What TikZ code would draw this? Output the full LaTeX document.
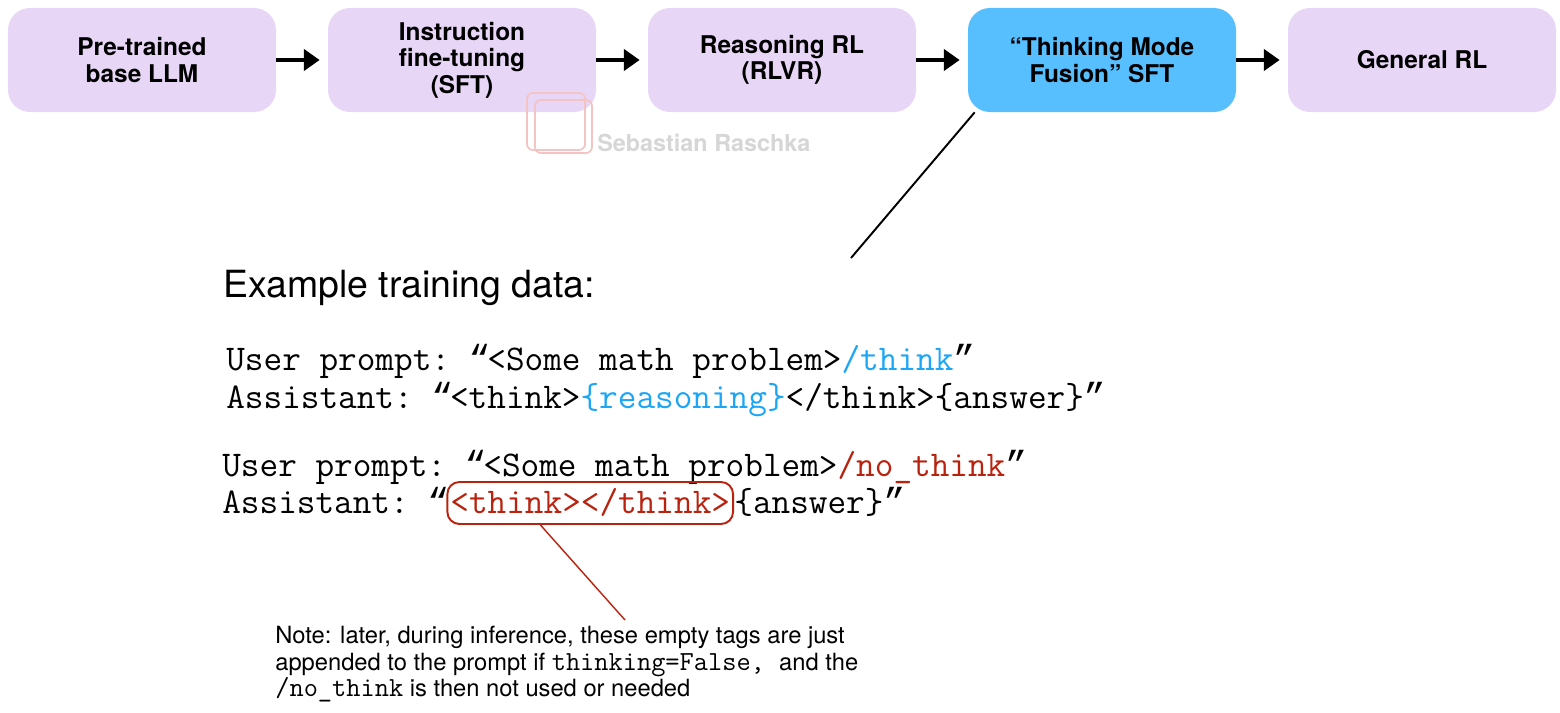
\documentclass[tikz,border=0pt]{standalone}
\usepackage{fontspec}
\usepackage{tikz}
\usepackage{xcolor}
\setsansfont{TeX Gyre Heros}
\newfontfamily\quotefont{Liberation Mono}
\usetikzlibrary{arrows.meta}
\definecolor{stagelav}{RGB}{232,214,246}
\definecolor{stageblue}{RGB}{88,191,255}
\definecolor{thinkblue}{RGB}{28,166,245}
\definecolor{thinkred}{RGB}{184,34,14}
\definecolor{markgray}{RGB}{214,214,214}
\definecolor{markred}{RGB}{244,196,196}
\newcommand{\mq}[1]{\rlap{\quotefont #1}\phantom{x}}
\newcommand{\notett}[1]{{\ttfamily\fontsize{15.7}{15}\selectfont #1}}

\begin{document}
\begin{tikzpicture}[
    stage/.style={fill=stagelav, rounded corners=0.44cm, minimum width=5.36cm, minimum height=2.08cm,
      inner sep=0pt, align=center, font=\sffamily\bfseries\fontsize{13.9}{15}\selectfont},
    flow/.style={line width=2.8pt, -{Triangle[length=9pt,width=12pt]}},
    code/.style={anchor=base west, inner sep=0pt, font=\ttfamily\fontsize{20.6}{24}\selectfont\frenchspacing}]
          \useasboundingbox (0,0) rectangle (31.2,-14.26);
          % pipeline
          \node[stage] (A) at (2.84,-1.2) {Pre-trained\\base LLM};
          \node[stage] (B) at (9.24,-1.2) {Instruction\\fine-tuning\\(SFT)};
          \node[stage] (C) at (15.64,-1.2) {Reasoning RL\\(RLVR)};
          \node[stage, fill=stageblue] (D) at (22.04,-1.2) {“Thinking Mode\\Fusion” SFT};
          \node[stage] (E) at (28.44,-1.2) {General RL};
          \draw[flow] (A.east) -- ([xshift=-0.16cm]B.west);
          \draw[flow] (B.east) -- ([xshift=-0.16cm]C.west);
          \draw[flow] (C.east) -- ([xshift=-0.16cm]D.west);
          \draw[flow] (D.east) -- ([xshift=-0.16cm]E.west);
          % watermark
          \draw[markred, line width=1pt, rounded corners=0.12cm] (10.7,-2.0) rectangle (11.84,-3.06);
          \draw[markred, line width=1pt, rounded corners=0.12cm] (10.54,-1.86) rectangle (11.7,-3.0);
          \node[anchor=west, inner sep=0pt, text=markgray, font=\sffamily\bfseries\fontsize{13.3}{15}\selectfont] (W) at (11.94,-2.86) {Sebastian Raschka};
          % training data
          \coordinate (P) at (17.02,-5.16);
          \draw[line width=1.1pt] ([xshift=0.14cm]D.south west) -- (P);
          \node[anchor=base west, inner sep=0pt, font=\sffamily\fontsize{21.3}{25}\selectfont] (T) at (4.46,-5.94) {Example training data:};
          \node[code] (U1) at (4.52,-7.4) {User prompt: \mq{“}<Some math problem>\textcolor{thinkblue}{/think}\mq{”}};
          \node[code] (A1) at (4.52,-8.16) {Assistant: \mq{“}<think>\textcolor{thinkblue}{\{reasoning\}}</think>\{answer\}\mq{”}};
          \node[code] (U2) at (4.44,-9.52) {User prompt: \mq{“}<Some math problem>\textcolor{thinkred}{/no\_think}\mq{”}};
          \node[code] (A2) at (4.44,-10.26) {Assistant: \mq{“}};
          \node[code, text=thinkred, draw=thinkred, line width=1.1pt, rounded corners=0.24cm, inner xsep=0.06cm,
            text height=0.62cm, text depth=0.22cm] (K) at (A2.base east) {<think></think>};
          \node[code] (A3) at (K.base east) {\{answer\}\mq{”}};
          % note
          \node[anchor=north west, align=left, inner sep=0pt, font=\sffamily\fontsize{13.5}{15}\selectfont] (N) at (5.5,-12.52)
            {Note: later, during inference, these empty tags are just\\
             appended to the prompt if \notett{thinking=False,}\hspace{0.6em}and the\\
             \notett{/no\_think} is then not used or needed};
          \coordinate (Q) at (12.5,-12.4);
          \draw[thinkred, line width=0.8pt] ([xshift=1.88cm]K.south west) -- (Q);
        \end{tikzpicture}
\end{document}
